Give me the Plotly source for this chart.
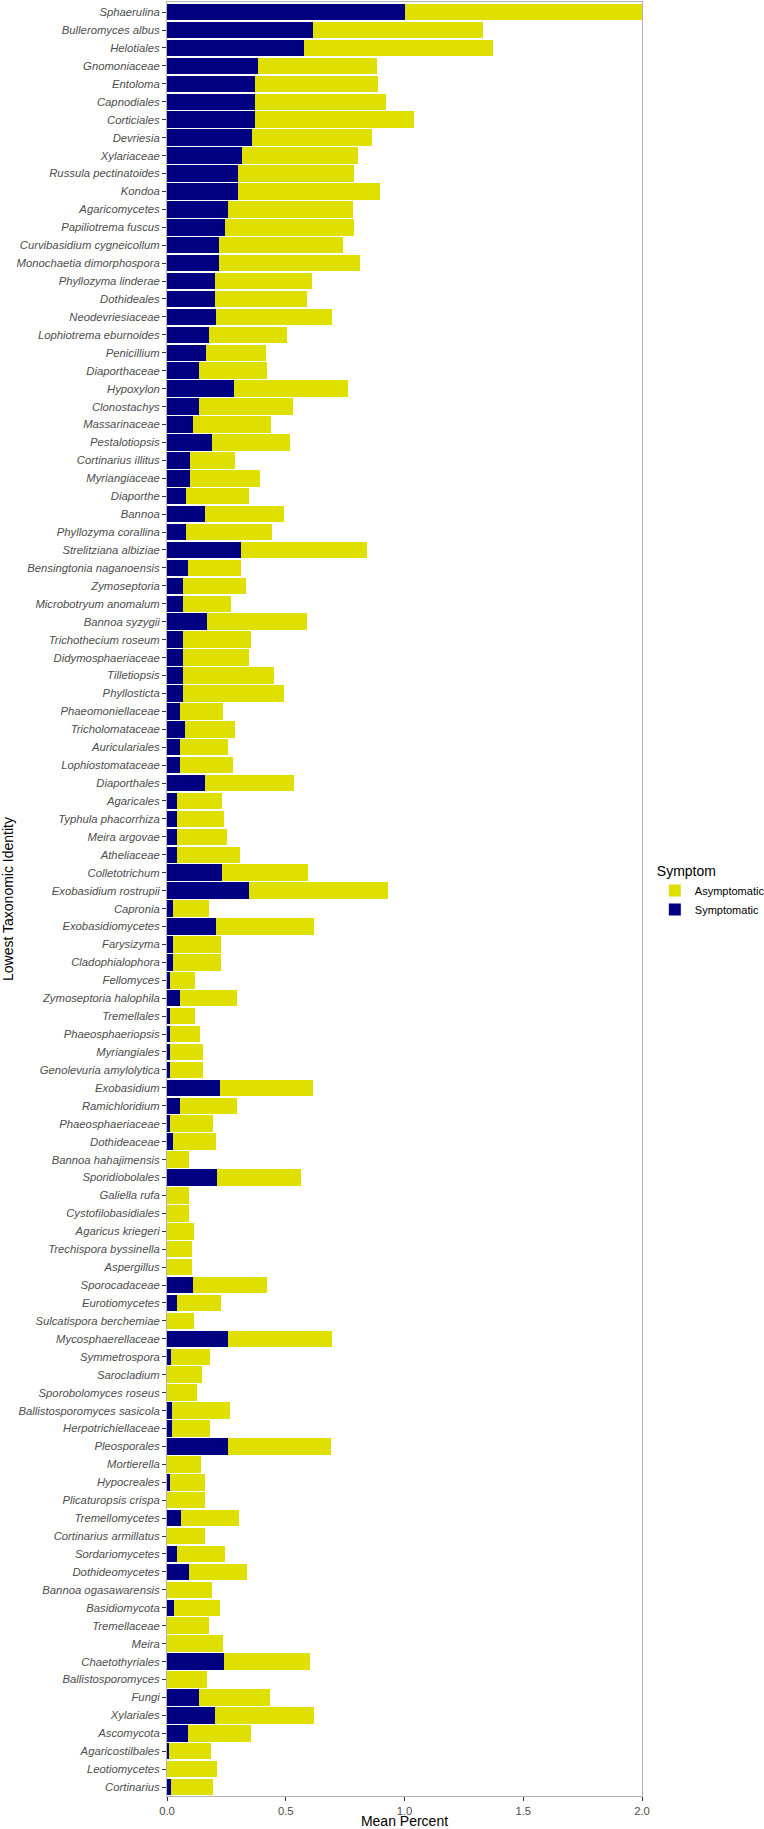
import plotly.graph_objects as go

categories = [
    "Sphaerulina", "Bulleromyces albus", "Helotiales", "Gnomoniaceae", "Entoloma",
    "Capnodiales", "Corticiales", "Devriesia", "Xylariaceae", "Russula pectinatoides",
    "Kondoa", "Agaricomycetes", "Papiliotrema fuscus", "Curvibasidium cygneicollum",
    "Monochaetia dimorphospora", "Phyllozyma linderae", "Dothideales", "Neodevriesiaceae",
    "Lophiotrema eburnoides", "Penicillium", "Diaporthaceae", "Hypoxylon", "Clonostachys",
    "Massarinaceae", "Pestalotiopsis", "Cortinarius illitus", "Myriangiaceae", "Diaporthe",
    "Bannoa", "Phyllozyma corallina", "Strelitziana albiziae", "Bensingtonia naganoensis",
    "Zymoseptoria", "Microbotryum anomalum", "Bannoa syzygii", "Trichothecium roseum",
    "Didymosphaeriaceae", "Tilletiopsis", "Phyllosticta", "Phaeomoniellaceae",
    "Tricholomataceae", "Auriculariales", "Lophiostomataceae", "Diaporthales", "Agaricales",
    "Typhula phacorrhiza", "Meira argovae", "Atheliaceae", "Colletotrichum",
    "Exobasidium rostrupii", "Capronia", "Exobasidiomycetes", "Farysizyma",
    "Cladophialophora", "Fellomyces", "Zymoseptoria halophila", "Tremellales",
    "Phaeosphaeriopsis", "Myriangiales", "Genolevuria amylolytica", "Exobasidium",
    "Ramichloridium", "Phaeosphaeriaceae", "Dothideaceae", "Bannoa hahajimensis",
    "Sporidiobolales", "Galiella rufa", "Cystofilobasidiales", "Agaricus kriegeri",
    "Trechispora byssinella", "Aspergillus", "Sporocadaceae", "Eurotiomycetes",
    "Sulcatispora berchemiae", "Mycosphaerellaceae", "Symmetrospora", "Sarocladium",
    "Sporobolomyces roseus", "Ballistosporomyces sasicola", "Herpotrichiellaceae",
    "Pleosporales", "Mortierella", "Hypocreales", "Plicaturopsis crispa", "Tremellomycetes",
    "Cortinarius armillatus", "Sordariomycetes", "Dothideomycetes", "Bannoa ogasawarensis",
    "Basidiomycota", "Tremellaceae", "Meira", "Chaetothyriales", "Ballistosporomyces",
    "Fungi", "Xylariales", "Ascomycota", "Agaricostilbales", "Leotiomycetes", "Cortinarius",
]

symptomatic = [
    1.000, 0.616, 0.575, 0.382, 0.370, 0.370, 0.370, 0.356, 0.315, 0.301,
    0.301, 0.258, 0.246, 0.218, 0.218, 0.204, 0.204, 0.205, 0.177, 0.163,
    0.136, 0.280, 0.136, 0.110, 0.191, 0.096, 0.096, 0.081, 0.158, 0.081,
    0.310, 0.088, 0.069, 0.069, 0.170, 0.069, 0.069, 0.069, 0.069, 0.055,
    0.076, 0.055, 0.055, 0.158, 0.041, 0.041, 0.041, 0.041, 0.232, 0.347,
    0.027, 0.205, 0.027, 0.027, 0.012, 0.055, 0.012, 0.012, 0.012, 0.012,
    0.223, 0.055, 0.012, 0.027, 0.000, 0.212, 0.000, 0.000, 0.000, 0.000,
    0.000, 0.110, 0.041, 0.000, 0.258, 0.018, 0.000, 0.000, 0.023, 0.021,
    0.257, 0.000, 0.012, 0.000, 0.061, 0.000, 0.043, 0.092, 0.000, 0.031,
    0.000, 0.000, 0.240, 0.000, 0.135, 0.203, 0.088, 0.008, 0.000, 0.018,
]

asymptomatic = [
    1.000, 0.713, 0.798, 0.501, 0.520, 0.552, 0.669, 0.509, 0.489, 0.488,
    0.596, 0.524, 0.543, 0.522, 0.596, 0.405, 0.384, 0.489, 0.329, 0.255,
    0.287, 0.483, 0.393, 0.327, 0.328, 0.189, 0.297, 0.266, 0.334, 0.361,
    0.531, 0.224, 0.264, 0.200, 0.421, 0.285, 0.276, 0.381, 0.423, 0.179,
    0.211, 0.202, 0.223, 0.375, 0.189, 0.201, 0.210, 0.265, 0.361, 0.582,
    0.148, 0.414, 0.201, 0.201, 0.107, 0.239, 0.107, 0.128, 0.138, 0.138,
    0.391, 0.239, 0.181, 0.180, 0.094, 0.354, 0.094, 0.094, 0.115, 0.104,
    0.104, 0.313, 0.186, 0.115, 0.436, 0.161, 0.147, 0.126, 0.244, 0.161,
    0.435, 0.143, 0.146, 0.158, 0.244, 0.158, 0.201, 0.246, 0.189, 0.194,
    0.178, 0.234, 0.360, 0.168, 0.297, 0.416, 0.264, 0.176, 0.209, 0.175,
]

x_ticks = [0.0, 0.5, 1.0, 1.5, 2.0]
x_tick_labels = ["0.0", "0.5", "1.0", "1.5", "2.0"]

NAVY = "#000080"
YELLOW = "#E0E000"
FONT = "Liberation Sans, Arial, Helvetica, sans-serif"
GREY_TXT = "#4D4D4D"
BORDER = "#B3B3B3"

fig = go.Figure()
fig.add_trace(go.Bar(
    y=categories, x=symptomatic, orientation="h", name="Symptomatic",
    marker=dict(color=NAVY, line=dict(width=0)), width=0.92,
))
fig.add_trace(go.Bar(
    y=categories, x=asymptomatic, orientation="h", name="Asymptomatic",
    marker=dict(color=YELLOW, line=dict(width=0)), width=0.92,
))

fig.update_layout(
    barmode="stack",
    width=764, height=1829,
    margin=dict(l=167, r=122, t=2, b=33, autoexpand=False),
    paper_bgcolor="white", plot_bgcolor="white",
    font=dict(family=FONT, color="black"),
    legend=dict(
        title=dict(text="Symptom", font=dict(size=14, color="black", family=FONT)),
        traceorder="reversed",
        font=dict(size=11, color="black", family=FONT),
        x=1.027, xanchor="left", y=0.523, yanchor="top",
        bgcolor="rgba(0,0,0,0)", tracegroupgap=0, itemwidth=30,
    ),
    xaxis=dict(
        range=[0, 2], tickvals=x_ticks, ticktext=x_tick_labels,
        showgrid=False, zeroline=False,
        showline=True, linecolor=BORDER, linewidth=1, mirror=True,
        ticks="outside", ticklen=4, tickcolor="#333333", tickwidth=1,
        tickfont=dict(size=11.3, color=GREY_TXT, family=FONT),
        title=dict(text="Mean Percent", font=dict(size=14, color="black", family=FONT), standoff=2),
        automargin=False,
    ),
    yaxis=dict(
        type="category", categoryorder="array", categoryarray=categories,
        range=[99.5, -0.565],
        showgrid=False, zeroline=False,
        showline=True, linecolor=BORDER, linewidth=1, mirror=True,
        ticks="outside", ticklen=4, tickcolor="#333333", tickwidth=1,
        tickfont=dict(size=11.3, color=GREY_TXT, family=FONT, style="italic"),
        title=dict(text="Lowest Taxonomic Identity", font=dict(size=14, color="black", family=FONT)),
        automargin=False,
    ),
)

fig.write_html(
    "out.html",
    config={"displayModeBar": False},
    post_script="document.body.style.margin='0';document.body.style.overflow='hidden';",
)
